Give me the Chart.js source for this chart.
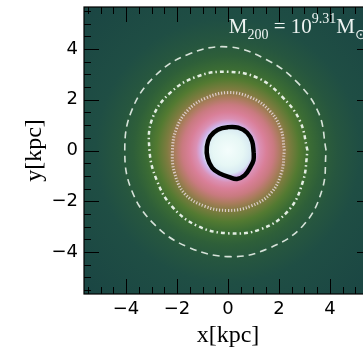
<!DOCTYPE html>
<html>
<head>
<meta charset="utf-8">
<script src="https://cdn.jsdelivr.net/npm/chart.js@4.4.1/dist/chart.umd.min.js"></script>
<style>
  html, body { margin: 0; padding: 0; background: #fff; overflow: hidden; }
  #wrap { width: 380px; height: 350px; }
</style>
</head>
<body>
<div id="wrap"><canvas id="myChart" width="380" height="350"></canvas></div>
<script>
// axis ticks (kpc)
var tickValues = [-4, -2, 0, 2, 4];
var tickLabels = ['\u22124', '\u22122', '0', '2', '4'];
var minorValues = [-5.5, -5, -4.5, -3.5, -3, -2.5, -1.5, -1, -0.5, 0.5, 1, 1.5, 2.5, 3, 3.5, 4.5, 5, 5.5];

// radial colour profile of the surface density map (radius in kpc -> colour)
var profileR = [0, 0.6, 0.9, 1.05, 1.25, 1.5, 1.8, 2.1, 2.4, 2.8, 3.2, 3.7, 4.3, 5.2, 8.0];
var profileColor = ['#f4fdfc', '#e6f7f5', '#d8eaf2', '#cfb3ea', '#db90b4', '#d97f98', '#c97a80', '#a77c5a',
                    '#7e7c40', '#537a31', '#3b6c34', '#2e5f39', '#26563f', '#1f4e44', '#1a4543'];

// contours (kpc)
var blackX = [1.01, 0.95, 0.75, 0.40, 0.00, -0.40, -0.70, -0.83, -0.80, -0.62, -0.33, 0.05, 0.35, 0.65, 0.88, 1.00];
var blackY = [-0.10, 0.35, 0.70, 0.90, 0.92, 0.82, 0.55, 0.15, -0.30, -0.68, -0.90, -1.05, -1.12, -0.98, -0.65, -0.38];

var dottedX = [2.21, 2.07, 1.60, 0.87, 0.02, -0.86, -1.58, -2.03, -2.18, -2.10, -1.70, -0.90, 0.00, 0.90, 1.68, 2.10];
var dottedY = [0.00, 0.86, 1.60, 2.10, 2.28, 2.07, 1.58, 0.84, 0.00, -0.87, -1.70, -2.20, -2.36, -2.19, -1.68, -0.87];

var dashdotX = [3.12, 2.82, 2.12, 1.18, 0.00, -1.20, -2.27, -2.98, -3.08, -2.80, -2.20, -1.22, 0.00, 1.28, 2.37, 2.94];
var dashdotY = [0.00, 1.17, 2.12, 2.85, 3.10, 2.92, 2.27, 1.23, 0.00, -1.16, -2.20, -2.96, -3.26, -3.10, -2.37, -1.22];

var dashedX = [3.85, 3.56, 2.70, 1.50, 0.00, -1.57, -2.90, -3.78, -4.05, -3.78, -2.90, -1.57, 0.10, 1.60, 2.95, 3.70];
var dashedY = [0.00, 1.47, 2.70, 3.58, 4.08, 3.78, 2.90, 1.57, 0.00, -1.57, -2.90, -3.80, -4.18, -3.85, -2.95, -1.52];

function loop(xs, ys) {
  var pts = xs.map(function (x, i) { return { x: x, y: ys[i] }; });
  pts.push(pts[0]);
  return pts;
}

var densityMap = {
  id: 'densityMap',
  beforeDatasetsDraw: function (chart) {
    var ctx = chart.ctx, a = chart.chartArea;
    var xs = chart.scales.x, ys = chart.scales.y;
    var cx = xs.getPixelForValue(0), cy = ys.getPixelForValue(0);
    var rMax = profileR[profileR.length - 1];
    var rpx = xs.getPixelForValue(rMax) - cx;
    var g = ctx.createRadialGradient(cx, cy, 0, cx, cy, rpx);
    profileR.forEach(function (r, i) { g.addColorStop(r / rMax, profileColor[i]); });
    ctx.save();
    ctx.fillStyle = g;
    ctx.fillRect(a.left, a.top, a.right - a.left, a.bottom - a.top);
    ctx.restore();
  },
  afterDatasetsDraw: function (chart) {
    var ctx = chart.ctx, a = chart.chartArea;
    var xs = chart.scales.x, ys = chart.scales.y;
    ctx.save();
    // inward ticks on all four sides
    ctx.strokeStyle = '#000';
    ctx.lineWidth = 1;
    function ticks(vals, len) {
      vals.forEach(function (v) {
        var px = Math.round(xs.getPixelForValue(v)) + 0.5;
        var py = Math.round(ys.getPixelForValue(v)) + 0.5;
        ctx.beginPath();
        ctx.moveTo(px, a.bottom); ctx.lineTo(px, a.bottom - len);
        ctx.moveTo(px, a.top); ctx.lineTo(px, a.top + len);
        ctx.moveTo(a.left, py); ctx.lineTo(a.left + len, py);
        ctx.moveTo(a.right, py); ctx.lineTo(a.right - len, py);
        ctx.stroke();
      });
    }
    ticks(tickValues, 15);
    ticks(minorValues, 7);
    ctx.lineWidth = 1.2;
    ctx.strokeRect(a.left, a.top, a.right - a.left, a.bottom - a.top);

    // halo mass label
    var x = xs.getPixelForValue(0.03), y = ys.getPixelForValue(4.62);
    ctx.fillStyle = '#eef4f2';
    ctx.textBaseline = 'alphabetic';
    ctx.textAlign = 'left';
    var big = '21px "Liberation Serif"', small = '14px "Liberation Serif"';
    var parts = [
      ['M', big, 0], ['200', small, 6], [' = ', big, 0], ['10', big, 0],
      ['9.31', small, -10], ['M', big, 0], ['\u2299', small, 6]
    ];
    parts.forEach(function (p) {
      ctx.font = p[1];
      ctx.fillText(p[0], x, y + p[2]);
      x += ctx.measureText(p[0]).width;
    });
    ctx.restore();
  }
};

var ctx = document.getElementById('myChart').getContext('2d');
var tickFont = { family: '"DejaVu Sans"', size: 18 };
var titleFont = { family: '"Liberation Serif"', size: 24 };

var myChart = new Chart(ctx, {
  type: 'scatter',
  data: {
    datasets: [
      { data: loop(dashedX, dashedY), borderColor: 'rgba(245,250,245,0.85)', borderWidth: 1.6, borderDash: [7, 5] },
      { data: loop(dashdotX, dashdotY), borderColor: 'rgba(245,252,245,0.9)', borderWidth: 2.5, borderDash: [4, 3, 1.5, 3] },
      { data: loop(dottedX, dottedY), borderColor: 'rgba(240,225,232,0.8)', borderWidth: 3, borderDash: [1.2, 1.8] },
      { data: loop(blackX, blackY), borderColor: '#000', borderWidth: 4.5 }
    ].map(function (d) {
      d.showLine = true; d.pointRadius = 0; d.tension = 0.4; d.fill = false;
      return d;
    })
  },
  options: {
    responsive: false,
    animation: false,
    events: [],
    layout: { padding: { top: 7, right: 8, left: 0, bottom: 0 } },
    plugins: { legend: { display: false }, tooltip: { enabled: false } },
    scales: {
      x: {
        type: 'linear', min: -5.65, max: 5.65,
        afterFit: function (s) { s.height = 56; s.paddingLeft = 0; s.paddingRight = 0; },
        afterBuildTicks: function (s) { s.ticks = tickValues.map(function (v) { return { value: v }; }); },
        grid: { display: false, drawTicks: false },
        border: { display: false },
        ticks: {
          color: '#000', font: tickFont, padding: 5, maxRotation: 0, autoSkip: false,
          callback: function (v) { return tickLabels[tickValues.indexOf(v)]; }
        },
        title: { display: true, text: 'x[kpc]', color: '#000', font: titleFont, padding: 0 }
      },
      y: {
        type: 'linear', min: -5.65, max: 5.65,
        afterFit: function (s) { s.width = 84; s.paddingTop = 0; s.paddingBottom = 0; },
        afterBuildTicks: function (s) { s.ticks = tickValues.map(function (v) { return { value: v }; }); },
        grid: { display: false, drawTicks: false },
        border: { display: false },
        ticks: {
          color: '#000', font: tickFont, padding: 6, autoSkip: false,
          callback: function (v) { return tickLabels[tickValues.indexOf(v)]; }
        },
        title: { display: true, text: 'y[kpc]', color: '#000', font: titleFont, padding: { top: 20, bottom: 0 } }
      }
    }
  },
  plugins: [densityMap]
});
</script>
</body>
</html>
